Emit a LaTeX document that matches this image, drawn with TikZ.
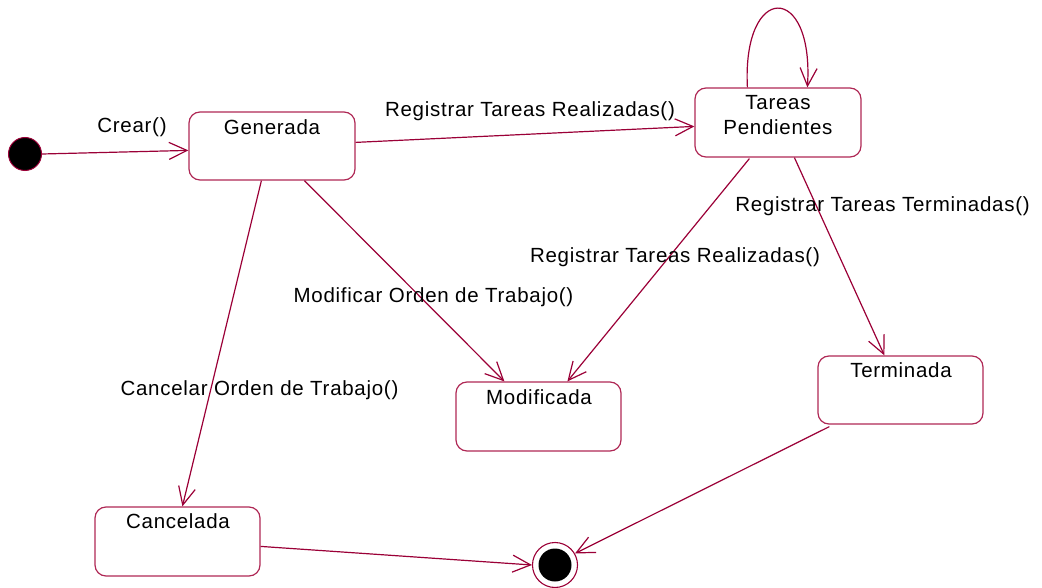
\documentclass[tikz,border=0pt]{standalone}
\usepackage{fontspec}
\setmainfont[LetterSpace=3.5]{Liberation Sans}
\usetikzlibrary{arrows.meta,calc}
\definecolor{crim}{RGB}{155,0,55}
\definecolor{crimbox}{RGB}{175,40,85}
\begin{document}
\begin{tikzpicture}[x=1pt,y=-1pt,
  font=\fontsize{20.5}{25}\selectfont,
  statebox/.style={draw=crimbox, line width=1.2pt, rounded corners=11pt, minimum width=166pt, minimum height=68pt, inner sep=0pt},
  conn/.style={draw=crim, line width=1.2pt, -{Straight Barb[length=18pt,width=17pt,line width=1.2pt]}},
  lbl/.style={inner sep=0pt, text=black, anchor=center}]
\useasboundingbox (0,0) rectangle (1042,588);

% states
\node[statebox] (gen) at (272,146) {};
\node[statebox, minimum height=69pt] (tar) at (778,122.5) {};
\node[statebox, minimum width=165pt, minimum height=69pt] (mod) at (538.5,416.5) {};
\node[statebox, minimum width=165pt] (term) at (900.5,390) {};
\node[statebox, minimum width=165pt, minimum height=69pt] (canc) at (177.5,541.5) {};

\node[lbl] (genT) at (272,127) {Generada};
\node[lbl, align=center] (tarT) at (778,115) {Tareas\\Pendientes};
\node[lbl] (modT) at (539,397) {Modificada};
\node[lbl] (termT) at (901,370) {Terminada};
\node[lbl] (cancT) at (178,521) {Cancelada};

% pseudo states
\node[circle, fill=black, draw=crim, line width=1pt, minimum size=33pt, inner sep=0pt] (init) at (25,154) {};
\node[circle, draw=crim, line width=1.1pt, fill=white, minimum size=45pt, inner sep=0pt] (fin) at (555,565) {};
\node[circle, fill=black, minimum size=33pt, inner sep=0pt] (finIn) at (fin) {};

% transitions
\draw[conn] (init.east) -- ($(gen.north west)+(0,39)$);
\draw[conn] ($(gen.north east)+(0,31)$) -- ($(tar.north west)+(0,39)$);
\draw[conn] ($(tar.north west)+(53,0)$) .. controls (742,-18) and (814,-18) .. ($(tar.north west)+(113,0)$);
\draw[conn] ($(tar.south west)+(55,1)$) -- ($(mod.north west)+(112,0)$);
\draw[conn] ($(tar.south west)+(100,0)$) -- ($(term.north west)+(67,0)$);
\draw[conn] ($(gen.south west)+(116,0)$) -- ($(mod.north west)+(49,0)$);
\draw[conn] ($(gen.south west)+(73,0)$) -- ($(canc.north west)+(88,0)$);
\draw[conn] ($(canc.north east)+(0,40)$) -- (fin.west);
\draw[conn] ($(term.south west)+(12,2)$) -- (fin.30);

% labels
\node[lbl] (l1) at (132,127) {Crear()};
\node[lbl] (l2) at (530,111) {Registrar Tareas Realizadas()};
\node[lbl] (l3) at (882.5,206) {Registrar Tareas Terminadas()};
\node[lbl] (l4) at (675,257) {Registrar Tareas Realizadas()};
\node[lbl] (l5) at (433.5,297) {Modificar Orden de Trabajo()};
\node[lbl] (l6) at (259.5,390) {Cancelar Orden de Trabajo()};
\end{tikzpicture}
\end{document}
